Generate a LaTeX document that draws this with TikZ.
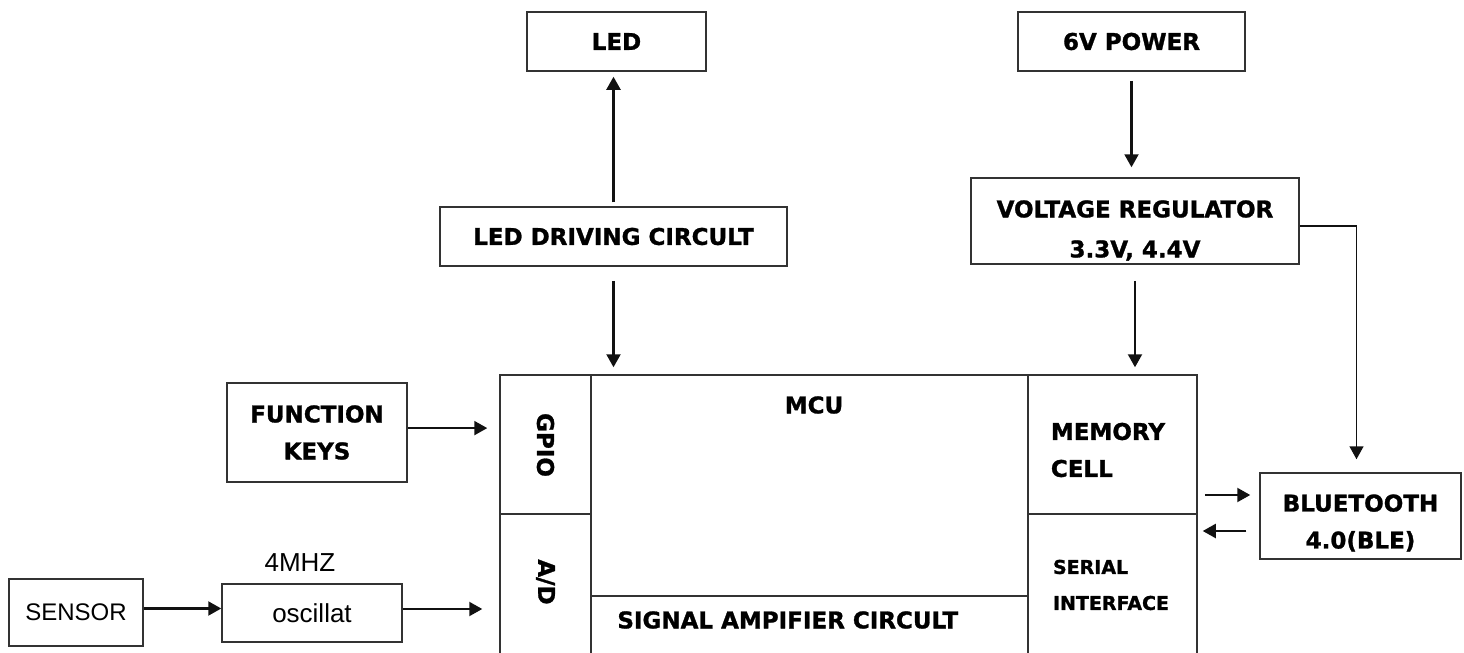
\documentclass[tikz,border=0pt]{standalone}
\usepackage{fontspec}
\usepackage{xcolor}
\usepackage{tikz}
\usetikzlibrary{arrows.meta, positioning, calc}
\newfontfamily\blockfont[BoldFeatures={FakeBold=1.2}]{DejaVu Sans}
\newfontfamily\plainfont{Liberation Sans}
\definecolor{BDLine}{RGB}{51, 51, 51}
\definecolor{BDArrow}{RGB}{17, 17, 17}
\tikzset{
  blockbox/.style={draw=BDLine, line width=0.75pt, inner sep=0pt, align=center,
    font=\blockfont\bfseries\fontsize{11.5}{18.5}\selectfont},
  cellbox/.style={draw=BDLine, line width=0.75pt, inner sep=0pt},
  celltext/.style={inner sep=0pt, align=left,
    font=\blockfont\bfseries\fontsize{11.5}{18.5}\selectfont},
  plainbox/.style={draw=BDLine, line width=0.75pt, inner sep=0pt,
    font=\plainfont\fontsize{13}{15}\selectfont},
  flow/.style={draw=BDArrow, line width=1.05pt, -{Triangle[length=6.5pt, width=7pt]}}
}

\begin{document}
\begin{tikzpicture}[x=0.5pt, y=-0.5pt]
  \clip (0,0) rectangle (1464,653);
  \fill[white] (0,0) rectangle (1464,653);

  % outer blocks
  \node[blockbox, minimum width=89.5pt, minimum height=29.5pt] (led) at (616.5,41.5) {LED};
  \node[blockbox, minimum width=113.5pt, minimum height=29.5pt] (power) at (1131.5,41.5) {6V POWER};
  \node[blockbox, minimum width=173.5pt, minimum height=29.5pt] (ledDriver) at (613.5,236.5) {LED DRIVING CIRCULT};
  \node[blockbox, minimum width=164pt, minimum height=43pt] (regulator) at (1135,221) {\rule{0pt}{18pt}VOLTAGE REGULATOR\\[1.5pt]3.3V, 4.4V};
  \node[blockbox, minimum width=90pt, minimum height=49.5pt] (keys) at (317,432.5) {FUNCTION\\KEYS};
  \node[blockbox, minimum width=100.5pt, minimum height=43pt] (bluetooth) at (1360.5,516) {\rule{0pt}{15.5pt}BLUETOOTH\\4.0(BLE)};
  \node[plainbox, font=\plainfont\fontsize{12}{14}\selectfont, minimum width=67pt, minimum height=33.5pt] (sensor) at (76,612.5) {SENSOR};
  \node[plainbox, minimum width=90pt, minimum height=29pt] (osc) at (312,613) {oscillat};
  \node[inner sep=0pt, font=\plainfont\fontsize{13}{15}\selectfont] (freq) at (300,563) {4MHZ};

  % MCU cells
  \node[cellbox, minimum width=45.5pt, minimum height=69.5pt] (gpio) at (545.5,444.5) {};
  \node[cellbox, minimum width=45.5pt, minimum height=83pt] (adc) at (545.5,597) {};
  \node[cellbox, minimum width=218.5pt, minimum height=110.5pt] (core) at (809.5,485.5) {};
  \node[cellbox, minimum width=218.5pt, minimum height=42pt] (amp) at (809.5,638) {};
  \node[cellbox, minimum width=84.5pt, minimum height=69.5pt] (mem) at (1112.5,444.5) {};
  \node[cellbox, minimum width=84.5pt, minimum height=83pt] (serial) at (1112.5,597) {};

  \node[celltext, rotate=-90] (gpioName) at (545.5,445) {GPIO};
  \node[celltext, rotate=-90] (adcName) at (545.5,582) {A/D};
  \node[celltext] (mcuName) at (814,405) {MCU};
  \node[celltext, anchor=west] (ampName) at (617,620) {SIGNAL AMPIFIER CIRCULT};
  \node[celltext] (memName) at (1108,450) {MEMORY\\CELL};
  \node[celltext, font=\blockfont\bfseries\fontsize{9.5}{18}\selectfont] (serialName) at (1111,585) {SERIAL\\INTERFACE};

  % connectors
  \draw[flow, shorten <=2pt, shorten >=2.5pt] (ledDriver.north) -- (ledDriver.north |- led.south);
  \draw[flow, shorten <=7pt, shorten >=3.5pt] (ledDriver.south) -- (ledDriver.south |- core.north);
  \draw[flow, shorten <=4.5pt, shorten >=5pt] (power.south) -- (power.south |- regulator.north);
  \draw[flow, shorten <=8pt, shorten >=3.5pt] (regulator.south) -- (regulator.south |- mem.north);
  \draw[flow, line width=0.75pt, shorten >=6.5pt] ([yshift=-2.5pt]regulator.east) -| ([xshift=-2pt]bluetooth.north);
  \draw[flow, shorten >=6pt] ([yshift=2.2pt]keys.east) -- ([yshift=2.2pt]keys.east -| gpio.west);
  \draw[flow] ([yshift=2pt]sensor.east) -- ([yshift=2pt]sensor.east -| osc.west);
  \draw[flow, shorten >=8.5pt] ([yshift=2pt]osc.east) -- ([yshift=2pt]osc.east -| adc.west);
  \draw[flow, shorten <=3.5pt, shorten >=4.5pt] ([yshift=10.5pt]bluetooth.west -| mem.east) -- ([yshift=10.5pt]bluetooth.west);
  \draw[flow, shorten <=6.5pt, shorten >=2.5pt] ([yshift=-7.5pt]bluetooth.west) -- ([yshift=-7.5pt]bluetooth.west -| serial.east);
\end{tikzpicture}
\end{document}
